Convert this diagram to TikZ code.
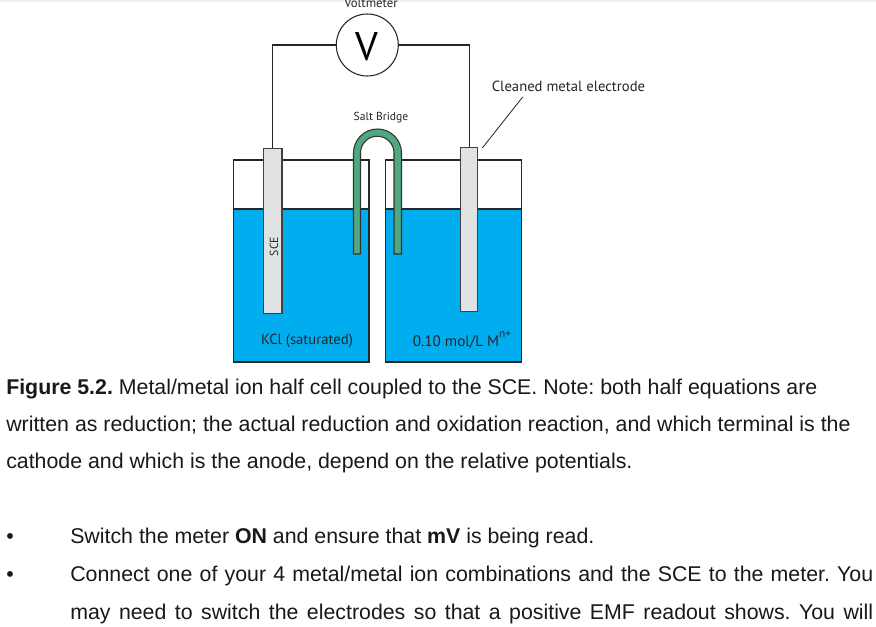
\documentclass[tikz,border=0pt]{standalone}
\usepackage{fontspec}
\setmainfont{Liberation Sans}
\newfontfamily\labelfont{PT Sans}
\definecolor{liquid}{HTML}{00ADEF}
\definecolor{bridge}{HTML}{4FA880}
\definecolor{electrode}{HTML}{E1E2E3}
\frenchspacing
\tikzset{
  x=0.75pt,y=-0.75pt,
  wire/.style={draw=black!85,line width=1pt},
  tank/.style={draw=black!85,line width=1pt},
  electrodebox/.style={draw=black!75,fill=electrode,line width=0.9pt,inner sep=0pt,minimum width=#1*0.75pt,anchor=north},
  meter/.style={circle,draw=black!85,fill=white,line width=0.8pt,inner sep=0pt,minimum size=46.5pt},
  figlabel/.style={inner sep=0pt,text=black!85,font=\labelfont\fontsize{9.6pt}{11pt}\selectfont},
  biglabel/.style={figlabel,font=\labelfont\fontsize{11pt}{13pt}\selectfont},
  bodyline/.style={inner sep=0pt,anchor=base west,text=black!90,font=\fontsize{16pt}{18pt}\selectfont},
}
\begin{document}
\begin{tikzpicture}
\useasboundingbox (0,0) rectangle (876,627);
\clip (0,0) rectangle (876,627);
\fill[white] (0,0) rectangle (876,627);
\fill[black!6] (0,0) rectangle (876,2);
% liquid
\fill[liquid] (233.5,209) rectangle (369,362);
\fill[liquid] (385.7,209) rectangle (521.7,362);
\draw[tank] (233.5,209) -- (369,209);
\draw[tank] (385.7,209) -- (521.7,209);
\draw[tank] (233.5,160) rectangle (369,362);
\draw[tank] (385.7,160) rectangle (521.7,362);
% electrodes
\node[electrodebox=18.7,minimum height=123.5pt] (sce) at (272.7,148) {};
\node[electrodebox=16.8,minimum height=123.2pt] (metal) at (469.2,147) {};
\node[rotate=90,figlabel,font=\labelfont\fontsize{8.8pt}{11pt}\selectfont] (scelabel) at (274,246.5) {SCE};
% salt bridge
\filldraw[fill=bridge,draw=black!80,line width=0.8pt]
  (353.5,254) -- (353.5,153) arc[start angle=180,end angle=360,radius=24] -- (401.5,254) -- (394,254)
  -- (394,153) arc[start angle=360,end angle=180,radius=16.75] -- (360.5,254) -- cycle;
% meter and wires
\node[meter] (V) at (367.3,45) {};
\node[inner sep=0pt,text=black,font=\labelfont\fontsize{30pt}{32pt}\selectfont] (Vtxt) at (367.3,46.5) {V};
\draw[wire] (sce.north) |- (V.west);
\draw[wire] (metal.north) |- (V.east);
% labels
\node[figlabel] (voltlabel) at (371,3) {Voltmeter};
\node[figlabel,font=\labelfont\fontsize{8.7pt}{11pt}\selectfont] (bridgelabel) at (381,117.5) {Salt Bridge};
\node[biglabel] (cleanlabel) at (568.5,86) {Cleaned metal electrode};
\coordinate (leaderend) at (482.3,148);
\draw[black!85,line width=0.6pt] (522.7,97) -- (leaderend);
\node[biglabel] (kcl) at (307,341) {KCl (saturated)};
\node[biglabel,font=\labelfont\fontsize{11.4pt}{13pt}\selectfont] (conc) at (462,340) {0.10 mol/L M\raisebox{1.1ex}{\fontsize{8.5pt}{9pt}\selectfont n+}};
% body text
\node[bodyline] (t1) at (6,395) {\textbf{Figure 5.2.} Metal/metal ion half cell coupled to the SCE. Note: both half equations are};
\node[bodyline] (t2) at (6,432) {written as reduction; the actual reduction and oxidation reaction, and which terminal is the};
\node[bodyline] (t3) at (6,469) {cathode and which is the anode, depend on the relative potentials.};
\node[bodyline] (b1) at (6,544) {•};
\node[bodyline] (t4) at (70,544) {Switch the meter \textbf{ON} and ensure that \textbf{mV} is being read.};
\node[bodyline] (b2) at (6,582) {•};
\node[bodyline] (t5) at (70,582) {\hbox to 602.25pt{Connect one of your 4 metal/metal ion combinations and the SCE to the meter. You}};
\node[bodyline] (t6) at (70,619) {\hbox to 602.25pt{may need to switch the electrodes so that a positive EMF readout shows. You will}};
\end{tikzpicture}
\end{document}
